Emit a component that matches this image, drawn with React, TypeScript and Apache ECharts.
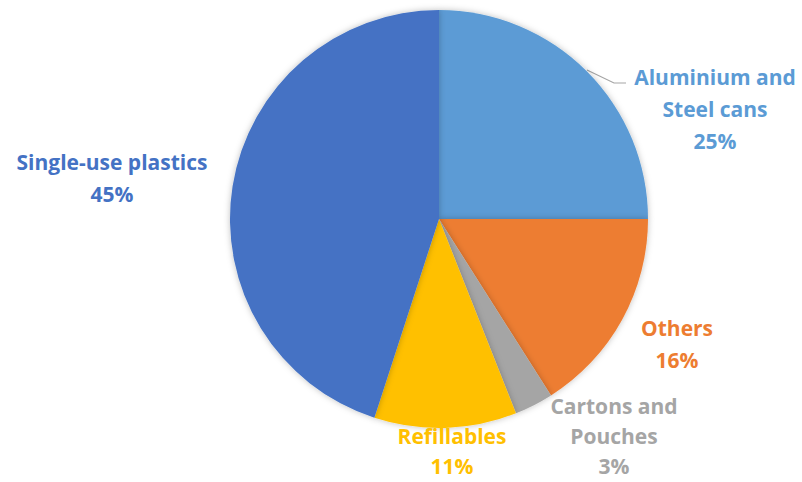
import React, { useEffect, useRef } from "react";
import * as echarts from "echarts";

const categories = [
  "Aluminium and Steel cans",
  "Others",
  "Cartons and Pouches",
  "Refillables",
  "Single-use plastics",
];
const labelLines = [
  ["Aluminium and", "Steel cans"],
  ["Others"],
  ["Cartons and", "Pouches"],
  ["Refillables"],
  ["Single-use plastics"],
];
const values = [25, 16, 3, 11, 45];
const colors = ["#5B9BD5", "#ED7D31", "#A5A5A5", "#FFC000", "#4472C4"];
// line box heights per label row (name rows + percentage row)
const rowHeights = [
  [32, 32, 32],
  [32, 32],
  [20, 40, 20],
  [40, 20],
  [32, 32],
];
const labelCenters = [
  [715, 109],
  [677, 344],
  [614, 436],
  [452, 446],
  [112, 178],
];

export default function App() {
  const ref = useRef<HTMLDivElement>(null);
  useEffect(() => {
    if (!ref.current) return;
    const chart = echarts.init(ref.current, undefined, { renderer: "svg" });
    chart.setOption({
      animation: false,
      backgroundColor: "#ffffff",
      series: [
        {
          type: "pie",
          center: [439, 219],
          radius: 209,
          startAngle: 90,
          clockwise: true,
          avoidLabelOverlap: false,
          itemStyle: {
            shadowBlur: 6,
            shadowColor: "rgba(0,0,0,0.25)",
          },
          emphasis: { disabled: true },
          data: categories.map((name, i) => {
            const rich: any = {};
            rowHeights[i].forEach((h, k) => {
              rich["r" + k] = {
                color: colors[i],
                fontSize: 21,
                fontWeight: "bold",
                fontFamily: "'Open Sans', sans-serif",
                lineHeight: h,
                height: h,
                align: "center",
              };
            });
            return {
              name,
              value: values[i],
              itemStyle: { color: colors[i] },
              label: {
                show: true,
                position: "outside",
                formatter: (p: any) => {
                  const rows = [...labelLines[i], p.percent + "%"];
                  return rows.map((r, k) => `{r${k}|${r}}`).join("\n");
                },
                rich,
                color: colors[i],
                fontSize: 21,
                fontWeight: "bold",
                fontFamily: "'Open Sans', sans-serif",
                align: "center",
              },
              labelLine: {
                show: i === 0,
                lineStyle: { color: "#A5A5A5", width: 1.2 },
              },
            };
          }),
          labelLayout: (params: any) => {
            const c = labelCenters[params.dataIndex];
            const res: any = {
              x: c[0],
              y: c[1],
              align: "center",
              verticalAlign: "middle",
            };
            if (params.dataIndex === 0) {
              res.labelLinePoints = [
                [587, 70],
                [614, 83],
                [626, 83],
              ];
            }
            return res;
          },
        },
      ],
    });
    return () => chart.dispose();
  }, []);
  return (
    <div
      ref={ref}
      style={{ position: "fixed", left: 0, top: 0, width: 802, height: 482 }}
    />
  );
}
